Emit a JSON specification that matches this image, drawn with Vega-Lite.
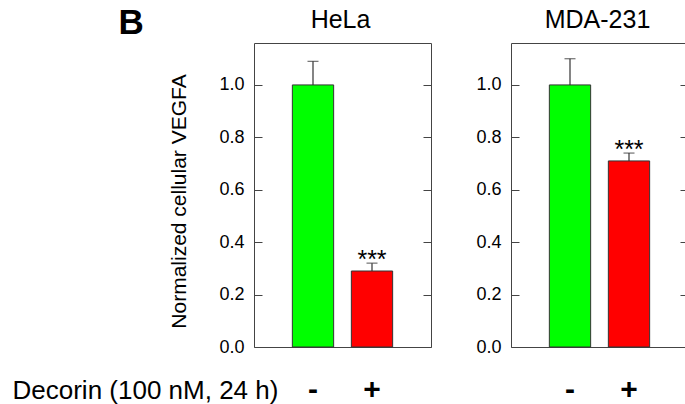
{
  "$schema": "https://vega.github.io/schema/vega-lite/v6.json",
  "padding": {"left": 11, "top": 4, "right": 0, "bottom": 0},
  "background": "white",
  "data": {"values": [
    {"cell": "HeLa", "decorin": "-", "value": 1.0, "hi": 1.09, "sig": ""},
    {"cell": "HeLa", "decorin": "+", "value": 0.29, "hi": 0.32, "sig": "***"},
    {"cell": "MDA-231", "decorin": "-", "value": 1.0, "hi": 1.10, "sig": ""},
    {"cell": "MDA-231", "decorin": "+", "value": 0.71, "hi": 0.74, "sig": "***"}
  ]},
  "spacing": 80,
  "bounds": "flush",
  "hconcat": [
    {
      "width": 177, "height": 304,
      "transform": [{"filter": "datum.cell === 'HeLa'"}],
      "layer": [
        {"mark": {"type": "bar", "stroke": "#333", "strokeWidth": 1},
         "encoding": {
           "x": {"field": "decorin", "type": "nominal", "sort": ["-", "+"],
             "scale": {"paddingInner": 0.3, "paddingOuter": 0.65},
             "axis": {"orient": "bottom", "title": "Decorin (100 nM, 24 h)", "titleX": -242, "titleY": 51, "titleAlign": "left", "titleBaseline": "alphabetic", "titleAnchor": null, "titleFontSize": 26}},
           "y": {"field": "value", "type": "quantitative", "scale": {"domain": [0, 1.16], "nice": false},
             "axis": {"orient": "left", "values": [0, 0.2, 0.4, 0.6, 0.8, 1.0], "format": ".1f", "tickSize": -8, "labelPadding": 18,
               "title": "Normalized cellular VEGFA", "titleX": -69, "titleY": 158, "titleAngle": -90, "titleAlign": "center", "titleBaseline": "alphabetic", "titleFontSize": 21}},
           "color": {"field": "decorin", "type": "nominal", "scale": {"domain": ["-", "+"], "range": ["#00ff00", "#ff0000"]}, "legend": null}}},
        {"mark": {"type": "rule", "color": "#333", "strokeWidth": 1.2},
         "encoding": {
           "x": {"field": "decorin", "type": "nominal", "sort": ["-", "+"], "axis": null},
           "y": {"field": "value", "type": "quantitative", "scale": {"domain": [0, 1.16], "nice": false},
             "axis": {"orient": "right", "values": [0, 0.2, 0.4, 0.6, 0.8, 1.0], "labels": false, "tickSize": -8,
               "title": "B", "titleX": -313, "titleY": -10, "titleAngle": 0, "titleAlign": "left", "titleBaseline": "alphabetic", "titleAnchor": null, "titleFontSize": 35, "titleFontWeight": "bold"}},
           "y2": {"field": "hi"}}},
        {"mark": {"type": "tick", "color": "#333", "size": 11, "thickness": 1.2},
         "encoding": {
           "x": {"field": "decorin", "type": "nominal", "sort": ["-", "+"], "axis": null},
           "y": {"field": "hi", "type": "quantitative", "axis": null}}},
        {"mark": {"type": "text", "baseline": "alphabetic", "dy": 5, "fontSize": 25, "color": "black"},
         "encoding": {
           "x": {"field": "decorin", "type": "nominal", "sort": ["-", "+"],
             "axis": {"orient": "top", "labels": false, "ticks": false, "domain": false, "title": "HeLa", "titleX": 86, "titleY": -16, "titleAlign": "center", "titleBaseline": "alphabetic", "titleAnchor": null}},
           "y": {"field": "hi", "type": "quantitative", "axis": null},
           "text": {"field": "sig"}}}
      ],
      "resolve": {"axis": {"x": "independent", "y": "independent"}}
    },
    {
      "width": 177, "height": 304,
      "transform": [{"filter": "datum.cell === 'MDA-231'"}],
      "layer": [
        {"mark": {"type": "bar", "stroke": "#333", "strokeWidth": 1},
         "encoding": {
           "x": {"field": "decorin", "type": "nominal", "sort": ["-", "+"],
             "scale": {"paddingInner": 0.3, "paddingOuter": 0.65},
             "axis": {"orient": "bottom", "title": null}},
           "y": {"field": "value", "type": "quantitative", "scale": {"domain": [0, 1.16], "nice": false},
             "axis": {"orient": "left", "values": [0, 0.2, 0.4, 0.6, 0.8, 1.0], "format": ".1f", "tickSize": -8, "labelPadding": 18, "title": null}},
           "color": {"field": "decorin", "type": "nominal", "scale": {"domain": ["-", "+"], "range": ["#00ff00", "#ff0000"]}, "legend": null}}},
        {"mark": {"type": "rule", "color": "#333", "strokeWidth": 1.2},
         "encoding": {
           "x": {"field": "decorin", "type": "nominal", "sort": ["-", "+"], "axis": null},
           "y": {"field": "value", "type": "quantitative", "scale": {"domain": [0, 1.16], "nice": false},
             "axis": {"orient": "right", "values": [0, 0.2, 0.4, 0.6, 0.8, 1.0], "labels": false, "tickSize": -8, "title": null}},
           "y2": {"field": "hi"}}},
        {"mark": {"type": "tick", "color": "#333", "size": 11, "thickness": 1.2},
         "encoding": {
           "x": {"field": "decorin", "type": "nominal", "sort": ["-", "+"], "axis": null},
           "y": {"field": "hi", "type": "quantitative", "axis": null}}},
        {"mark": {"type": "text", "baseline": "alphabetic", "dy": 5, "fontSize": 25, "color": "black"},
         "encoding": {
           "x": {"field": "decorin", "type": "nominal", "sort": ["-", "+"],
             "axis": {"orient": "top", "labels": false, "ticks": false, "domain": false, "title": "MDA-231", "titleX": 86, "titleY": -16, "titleAlign": "center", "titleBaseline": "alphabetic", "titleAnchor": null}},
           "y": {"field": "hi", "type": "quantitative", "axis": null},
           "text": {"field": "sig"}}}
      ],
      "resolve": {"axis": {"x": "independent", "y": "independent"}}
    }
  ],
  "config": {
    "font": "Liberation Sans",
    "view": {"stroke": "#444", "strokeWidth": 1},
    "axis": {"grid": false, "domain": false, "tickColor": "#444", "tickWidth": 1, "labelColor": "black", "titleColor": "black", "labelFontSize": 18, "titleFontSize": 25, "titleFontWeight": "normal"},
    "axisX": {"ticks": false, "labelAngle": 0, "labelFontSize": 30, "labelFontWeight": "bold", "labelPadding": 51, "labelBaseline": "alphabetic"}
  }
}
